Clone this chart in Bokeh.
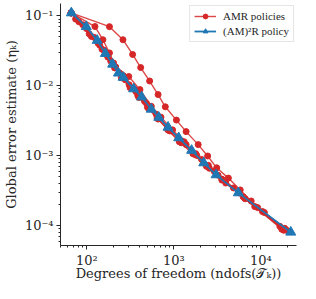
from bokeh.plotting import figure
from bokeh.models import Legend, LegendItem, Range1d
from bokeh.embed import file_html
from bokeh.resources import INLINE

# AMR policies (red) : ndofs and error estimates
amr_ndofs = [
    [66, 182, 260, 336, 416, 527, 659, 798, 1071, 1384, 1905, 2447, 3111, 4235, 5796, 7745, 10990, 18800],
    [66, 124, 153, 182, 214, 303.5, 408, 551, 711, 967, 1315, 1787, 2493, 3566, 6266, 16550],
    [66, 74.3, 106.3, 140.8, 174.2, 208.4, 249.3, 314, 395, 510, 659, 896, 1218, 1742, 2556, 3953, 8511, 18800],
    [66, 80.9, 112.8, 149.4, 188, 236.8, 306, 385, 497.6, 642.5, 851, 1157, 1655, 2366, 3566, 6590, 17420],
    [66, 89.6, 121.8, 157.3, 203, 262.4, 347.5, 460.6, 626, 851, 1218, 1834, 2904, 4850, 9186, 18330],
    [66, 99, 134.9, 174.2, 213.8, 276, 365.6, 485, 659, 942, 1384, 2084, 3221, 5650, 10440, 19810],
]
amr_eta = [
    [0.110, 0.0700, 0.0455, 0.0280, 0.0182, 0.01169, 0.00749, 0.00500, 0.00323, 0.00221, 0.00144, 0.000991, 0.000671, 0.000478, 0.000324, 0.000225, 0.000154, 9.16e-5],
    [0.110, 0.0703, 0.0455, 0.0295, 0.0186, 0.01356, 0.00881, 0.00508, 0.00356, 0.00234, 0.00158, 0.00107, 0.000728, 0.000463, 0.000258, 9.77e-5],
    [0.110, 0.0899, 0.0553, 0.0379, 0.0257, 0.0180, 0.01300, 0.00940, 0.00680, 0.00476, 0.00334, 0.00226, 0.00153, 0.00104, 0.000661, 0.000406, 0.000187, 8.87e-5],
    [0.110, 0.0823, 0.0507, 0.0333, 0.0225, 0.01528, 0.01035, 0.00726, 0.00492, 0.00345, 0.00234, 0.00158, 0.00107, 0.000705, 0.000448, 0.000242, 8.87e-5],
    [0.110, 0.0747, 0.0491, 0.0322, 0.0211, 0.01387, 0.00910, 0.00598, 0.00392, 0.00257, 0.00164, 0.00101, 0.000600, 0.000346, 0.000181, 8.59e-5],
    [0.110, 0.0656, 0.0404, 0.0265, 0.0186, 0.01219, 0.00826, 0.00560, 0.00367, 0.00226, 0.00144, 0.000885, 0.000527, 0.000294, 0.000159, 8.59e-5],
]

# (AM)^2R policy (blue)
am2r_ndofs = [66.4, 98.5, 131.5, 163.4, 198, 230.8, 262.4, 345, 426.6, 550.8, 671, 858, 1136, 1600, 2208, 3060, 5510, 22080]
am2r_eta = [0.110, 0.0700, 0.0445, 0.0289, 0.0203, 0.01514, 0.01313, 0.00901, 0.00691, 0.00461, 0.00353, 0.00255, 0.00180, 0.00119, 0.000789, 0.000532, 0.000294, 8.05e-5]

x_tick_labels = {100: "10²", 1000: "10³", 10000: "10⁴"}
y_tick_labels = {0.1: "10⁻¹", 0.01: "10⁻²", 0.001: "10⁻³", 0.0001: "10⁻⁴"}

RED = "#d62728"
BLUE = "#1f77b4"
FONT = "DejaVu Serif"
TXT = "#262626"

p = figure(width=300, height=283, x_axis_type="log", y_axis_type="log",
           output_backend="svg", toolbar_location=None,
           min_border_left=53, min_border_right=4, min_border_top=3, min_border_bottom=0)
p.x_range = Range1d(49.8, 25700)
p.y_range = Range1d(5.2e-5, 0.15)
p.outline_line_color = None
p.grid.visible = False
p.background_fill_color = "white"

red_line = None
red_pts = None
for xs, ys in zip(amr_ndofs, amr_eta):
    l = p.line(xs, ys, line_color=RED, line_width=1.4, line_alpha=0.85)
    s = p.scatter(xs, ys, marker="circle", size=6, fill_color=RED, line_color=RED)
    if red_line is None:
        red_line, red_pts = l, s

bl = p.line(am2r_ndofs, am2r_eta, line_color=BLUE, line_width=1.8)
bs = p.scatter(am2r_ndofs, am2r_eta, marker="triangle", size=10, fill_color=BLUE, line_color=BLUE)

legend = Legend(items=[
    LegendItem(label="AMR policies", renderers=[red_line, red_pts]),
    LegendItem(label="(AM)²R policy", renderers=[bl, bs]),
], location="top_right")
legend.label_text_font = "Liberation Serif"
legend.label_text_font_size = "11px"
legend.label_text_color = TXT
legend.border_line_color = "#cccccc"
legend.border_line_width = 1
legend.background_fill_alpha = 0.9
legend.glyph_width = 22
legend.glyph_height = 12
legend.label_height = 12
legend.spacing = 3
legend.padding = 4
legend.margin = 2
legend.label_standoff = 7
p.add_layout(legend)

for ax in (p.xaxis, p.yaxis):
    ax.axis_line_color = TXT
    ax.axis_line_width = 1
    ax.major_tick_line_color = TXT
    ax.minor_tick_line_color = TXT
    ax.major_tick_out = 4
    ax.major_tick_in = 0
    ax.minor_tick_out = 2
    ax.minor_tick_in = 0
    ax.major_label_text_font = FONT
    ax.major_label_text_font_size = "13px"
    ax.major_label_text_color = TXT
    ax.axis_label_text_font = FONT
    ax.axis_label_text_font_size = "13px"
    ax.axis_label_text_font_style = "normal"
    ax.axis_label_text_color = TXT

p.xaxis.major_label_overrides = x_tick_labels
p.yaxis.major_label_overrides = y_tick_labels
p.xaxis.axis_label = "Degrees of freedom (ndofs(𝒯ₖ))"
p.yaxis.axis_label = "Global error estimate (ηₖ)"
p.xaxis.axis_label_standoff = -5
p.yaxis.axis_label_standoff = 3
p.xaxis.major_label_standoff = 3
p.yaxis.major_label_standoff = 3

open("out.html", "w").write(file_html(p, INLINE))
